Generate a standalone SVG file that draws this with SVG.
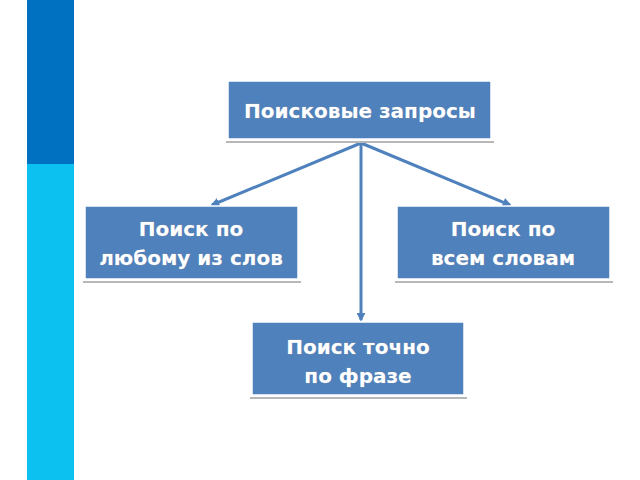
<svg xmlns="http://www.w3.org/2000/svg" width="640" height="480" viewBox="0 0 640 480">
<style>
.box{fill:#4f81bd;stroke:#fff;stroke-width:1.5}
.sh{fill:none;stroke:#b8b8b8;stroke-width:2}
.t{font-family:"DejaVu Sans",sans-serif;font-weight:bold;font-size:20px;fill:#fff;text-anchor:middle;stroke:#999;stroke-width:0.3;paint-order:stroke}
.c{stroke:#4f81bd;stroke-width:3;fill:none;marker-end:url(#a)}
</style>
<defs><marker id="a" viewBox="0 0 10 10" refX="8" refY="5" markerWidth="3" markerHeight="3" orient="auto"><path d="M0,0L10,5L0,10z" fill="#4f81bd"/></marker></defs>
<rect width="640" height="480" fill="#fff"/>
<rect x="27" y="0" width="47" height="164" fill="#0070c0"/>
<rect x="27" y="164" width="47" height="316" fill="#0cc0f0"/>
<g id="connectors">
<line class="c" x1="361" y1="143" x2="212" y2="205"/>
<line class="c" x1="361" y1="143" x2="510" y2="205"/>
<line class="c" x1="361" y1="143" x2="361" y2="320"/>
</g>
<g id="n1"><line class="sh" x1="226" y1="142" x2="494" y2="142"/><rect class="box" x="228" y="81" width="263" height="58"/><text class="t" x="360" y="118">Поисковые запросы</text></g>
<g id="n2"><line class="sh" x1="83" y1="282" x2="301" y2="282"/><rect class="box" x="85" y="206" width="213" height="73"/><text class="t" x="191" y="236">Поиск по</text><text class="t" x="191" y="265">любому из слов</text></g>
<g id="n3"><line class="sh" x1="395" y1="282" x2="613" y2="282"/><rect class="box" x="397" y="206" width="213" height="73"/><text class="t" x="503" y="236">Поиск по</text><text class="t" x="503" y="265">всем словам</text></g>
<g id="n4"><line class="sh" x1="250" y1="398" x2="467" y2="398"/><rect class="box" x="252" y="322" width="212" height="73"/><text class="t" x="358" y="354">Поиск точно</text><text class="t" x="358" y="383">по фразе</text></g>
</svg>
